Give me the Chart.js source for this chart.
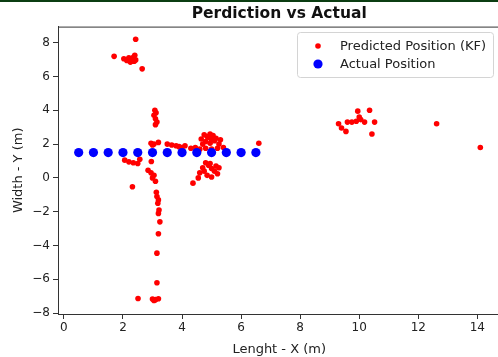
<!DOCTYPE html>
<html>
<head>
<meta charset="utf-8">
<script src="https://cdn.jsdelivr.net/npm/chart.js@4.4.0/dist/chart.umd.min.js"></script>
<style>
html, body { margin: 0; padding: 0; background: #fff; overflow: hidden; }
#wrap { position: relative; width: 505px; height: 357px; }
#topline { position: absolute; left: 0; top: 0; width: 498px; height: 2px; background: #0b3d12; }
</style>
</head>
<body>
<div id="wrap"><canvas id="canvas"></canvas><div id="topline"></div></div>
<script>
'use strict';

// Predicted Position (KF)
var predX = [2.43, 1.70, 2.03, 2.13, 2.20, 2.28, 2.30, 2.36, 2.40, 2.43, 2.25, 2.15, 2.38, 2.65,
  3.08, 3.12, 3.05, 3.10, 3.15, 3.10, 3.05, 2.95, 3.20, 3.00,
  3.50, 3.65, 3.80, 3.90, 4.00, 4.10, 4.30, 4.45, 4.60, 4.80, 5.00, 5.20, 5.40, 6.60,
  4.65, 4.75, 4.85, 4.95, 5.05, 5.15, 4.80, 4.95, 5.10, 5.30, 4.70, 5.25, 4.90, 5.00,
  4.60, 4.70, 4.80, 4.90, 5.00, 5.10, 5.20, 4.85, 5.00, 4.75, 4.55, 5.25, 4.37, 4.95, 5.15,
  2.06, 2.20, 2.35, 2.50, 2.57, 2.96, 2.85, 2.95, 3.05, 3.00, 3.10, 2.32,
  3.13, 3.15, 3.20, 3.18, 3.22, 3.20, 3.25, 3.20, 3.15, 3.15, 2.51, 3.00, 3.10, 3.20, 3.05,
  9.30, 9.40, 9.55, 9.60, 9.75, 9.90, 9.95, 10.00, 10.05, 10.18, 10.35, 10.52, 10.43, 12.62, 14.10];
var predY = [8.20, 7.19, 7.05, 6.95, 7.10, 6.90, 7.05, 7.15, 7.25, 6.98, 6.85, 7.00, 6.90, 6.45,
  4.00, 3.85, 3.70, 3.50, 3.30, 3.15, 2.00, 2.05, 2.10, 1.95,
  2.00, 1.95, 1.90, 1.85, 1.80, 1.90, 1.75, 1.80, 1.70, 1.75, 1.70, 1.75, 1.80, 2.05,
  2.30, 2.55, 2.45, 2.60, 2.50, 2.35, 2.15, 2.05, 2.20, 2.25, 2.00, 2.00, 2.40, 2.25,
  0.30, 0.60, 0.90, 0.75, 0.55, 0.40, 0.25, 0.15, 0.05, 0.40, 0.00, 0.60, -0.31, 0.85, 0.70,
  1.05, 0.95, 0.90, 0.85, 1.10, 0.97, 0.45, 0.30, 0.15, 0.00, -0.20, -0.52,
  -0.85, -1.10, -1.30, -1.50, -1.90, -2.10, -2.60, -3.30, -4.45, -6.20, -7.13, -7.17, -7.20, -7.15, -7.25,
  3.20, 2.95, 2.75, 3.30, 3.30, 3.35, 3.95, 3.60, 3.45, 3.30, 4.00, 3.30, 2.60, 3.20, 1.80];

// Actual Position
var actualX = [0.5, 1.0, 1.5, 2.0, 2.5, 3.0, 3.5, 4.0, 4.5, 5.0, 5.5, 6.0, 6.5];
var actualY = [1.5, 1.5, 1.5, 1.5, 1.5, 1.5, 1.5, 1.5, 1.5, 1.5, 1.5, 1.5, 1.5];

var xTicks = [0, 2, 4, 6, 8, 10, 12, 14];
var yTicks = [-8, -6, -4, -2, 0, 2, 4, 6, 8];

function toPoints(xs, ys) {
  return xs.map(function(x, i) { return {x: x, y: ys[i]}; });
}
function minusSign(v) {
  return String(v).replace('-', '\u2212');
}

var FONT = 'DejaVu Sans';

// top and right spines
var framePlugin = {
  id: 'frame',
  afterDraw: function(chart) {
    var a = chart.chartArea, ctx = chart.ctx;
    ctx.save();
    ctx.strokeStyle = '#333';
    ctx.lineWidth = 1;
    ctx.beginPath();
    ctx.moveTo(a.left, a.top + 0.5);
    ctx.lineTo(a.right - 0.5, a.top + 0.5);
    ctx.lineTo(a.right - 0.5, a.bottom);
    ctx.stroke();
    ctx.restore();
  }
};

// matplotlib style legend in the upper right corner
var legendPlugin = {
  id: 'boxLegend',
  afterDraw: function(chart) {
    var ctx = chart.ctx;
    var sets = chart.data.datasets;
    var x = 297, y = 32, w = 196, h = 45, r = 3;
    ctx.save();
    ctx.fillStyle = 'rgba(255,255,255,0.85)';
    ctx.strokeStyle = '#d4d4d4';
    ctx.lineWidth = 1;
    ctx.beginPath();
    ctx.roundRect(x + 0.5, y + 0.5, w, h, r);
    ctx.fill();
    ctx.stroke();
    ctx.font = '13px "' + FONT + '"';
    ctx.textBaseline = 'middle';
    sets.forEach(function(ds, i) {
      var cy = y + 14 + i * 18;
      ctx.fillStyle = ds.backgroundColor;
      ctx.beginPath();
      ctx.arc(x + 21, cy, ds.pointRadius, 0, Math.PI * 2);
      ctx.fill();
      ctx.fillStyle = '#222';
      ctx.fillText(ds.label, x + 43, cy + 1);
    });
    ctx.restore();
  }
};

var ctx = document.getElementById('canvas').getContext('2d');
window.myScatter = new Chart(ctx, {
  type: 'scatter',
  data: {
    datasets: [{
      label: 'Predicted Position (KF)',
      data: toPoints(predX, predY),
      backgroundColor: '#ff0000',
      borderWidth: 0,
      pointRadius: 2.8,
      pointHoverRadius: 2.8,
      order: 1
    }, {
      label: 'Actual Position',
      data: toPoints(actualX, actualY),
      backgroundColor: '#0000ff',
      borderWidth: 0,
      pointRadius: 4.6,
      pointHoverRadius: 4.6,
      order: 0
    }]
  },
  options: {
    responsive: true,
    maintainAspectRatio: false,
    animation: false,
    layout: { padding: { left: 0, right: 4, top: 0, bottom: 0 } },
    plugins: {
      legend: { display: false },
      tooltip: { enabled: false },
      title: {
        display: true,
        fullSize: false,
        text: 'Perdiction vs Actual',
        color: '#111',
        font: { family: FONT, size: 15.5, weight: 'bold' },
        padding: { top: 5, bottom: 3 }
      }
    },
    scales: {
      x: {
        type: 'linear',
        min: -0.2,
        max: 14.78,
        afterBuildTicks: function(s) { s.ticks = xTicks.map(function(v) { return {value: v}; }); },
        afterFit: function(s) { s.height = 43; },
        border: { display: true, color: '#333', width: 1 },
        grid: { drawOnChartArea: false, drawTicks: true, tickLength: 5, tickColor: '#333' },
        ticks: { color: '#222', font: { family: FONT, size: 12 }, padding: 2, maxRotation: 0, callback: minusSign },
        title: { display: true, text: 'Lenght - X (m)', color: '#222', font: { family: FONT, size: 13 }, padding: { top: 3, bottom: 0 } }
      },
      y: {
        type: 'linear',
        min: -8.05,
        max: 8.95,
        afterBuildTicks: function(s) { s.ticks = yTicks.map(function(v) { return {value: v}; }); },
        afterFit: function(s) { s.width = 58; },
        border: { display: true, color: '#333', width: 1 },
        grid: { drawOnChartArea: false, drawTicks: true, tickLength: 5, tickColor: '#333' },
        ticks: { color: '#222', font: { family: FONT, size: 12 }, padding: 3, callback: minusSign },
        title: { display: true, text: 'Width - Y (m)', color: '#222', font: { family: FONT, size: 13 }, padding: { top: 11, bottom: 0 } }
      }
    }
  },
  plugins: [framePlugin, legendPlugin]
});
</script>
</body>
</html>
